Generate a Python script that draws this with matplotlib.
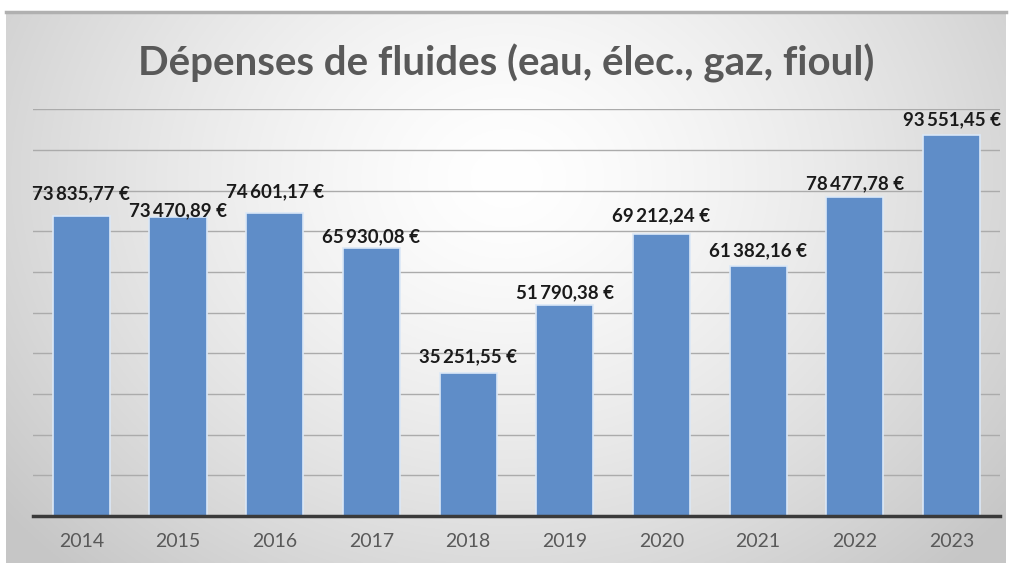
import numpy as np
import matplotlib
matplotlib.use("Agg")
import matplotlib.pyplot as plt

years = ["2014", "2015", "2016", "2017", "2018", "2019", "2020", "2021", "2022", "2023"]
values = [73835.77, 73470.89, 74601.17, 65930.08, 35251.55, 51790.38, 69212.24, 61382.16, 78477.78, 93551.45]
title = "Dépenses de fluides (eau, élec., gaz, fioul)"

# vertical gap (pixels) between bar top and label baseline, as placed in the original
label_gap_px = [16, 1, 15, 6, 10, 7, 13, 10, 8, 10]

def fr(v):
    s = f"{v:,.2f}"
    s = s.replace(",", "\u2009").replace(".", ",")
    return s + " €"

plt.rcParams['font.family'] = ['Lato', 'DejaVu Sans']
fig = plt.figure(figsize=(10.12, 5.63), dpi=100)
fig.patch.set_facecolor("white")

# gradient background panel
bg = fig.add_axes([0.006, 0.0, 0.988, 0.978])
ny, nx = 300, 600
yy, xx = np.mgrid[0:ny, 0:nx]
cx, cy = nx * 0.5, ny * 0.3
r = np.sqrt(((xx - cx) / (nx * 0.6)) ** 2 + ((yy - cy) / (ny * 0.9)) ** 2)
g = np.clip(1.0 - 0.2 * r ** 1.4, 0.78, 1.0)
img = np.dstack([g, g, g])
bg.imshow(img, aspect="auto", extent=[0, 1, 0, 1], origin="upper")
bg.set_xlim(0, 1); bg.set_ylim(0, 1)
bg.plot([0, 1], [1, 1], color="#b0b0b0", lw=2.5, transform=bg.transAxes, clip_on=False)
bg.axis("off")

ax = fig.add_axes([0.0326, 0.0835, 0.9554, 0.7225])
ax.patch.set_alpha(0)
x = np.arange(len(years))
ax.bar(x, values, width=0.59, color="#5f8dc8", edgecolor="#dbe8f7", linewidth=1.2, zorder=3)
ax.set_xlim(-0.5, len(years) - 0.5)
ax.set_ylim(0, 100000)
ax.set_yticks(np.arange(0, 100001, 10000))
ax.yaxis.grid(True, color="#ababab", linewidth=1.0, zorder=0)
ax.set_axisbelow(True)
ax.tick_params(axis="y", left=False, labelleft=False)
ax.tick_params(axis="x", bottom=False, labelsize=14, labelcolor="#595959", pad=9)
ax.set_xticks(x)
ax.set_xticklabels(years)
for s in ["top", "right", "left"]:
    ax.spines[s].set_visible(False)
ax.spines["bottom"].set_color("#3a3a3a")
ax.spines["bottom"].set_linewidth(2.5)
ax.spines["bottom"].set_zorder(4)

for xi, v, gp in zip(x, values, label_gap_px):
    ax.annotate(fr(v), (xi, v), xytext=(0, gp * 0.72), textcoords="offset points",
                ha="center", va="baseline", fontsize=13.5, fontweight="bold", color="#1a1a1a", zorder=5)

fig.text(0.5, 0.888, title, ha="center", va="center", fontsize=29, fontweight="bold", color="#595959")

fig.savefig("out.png", dpi=100, facecolor="white")
